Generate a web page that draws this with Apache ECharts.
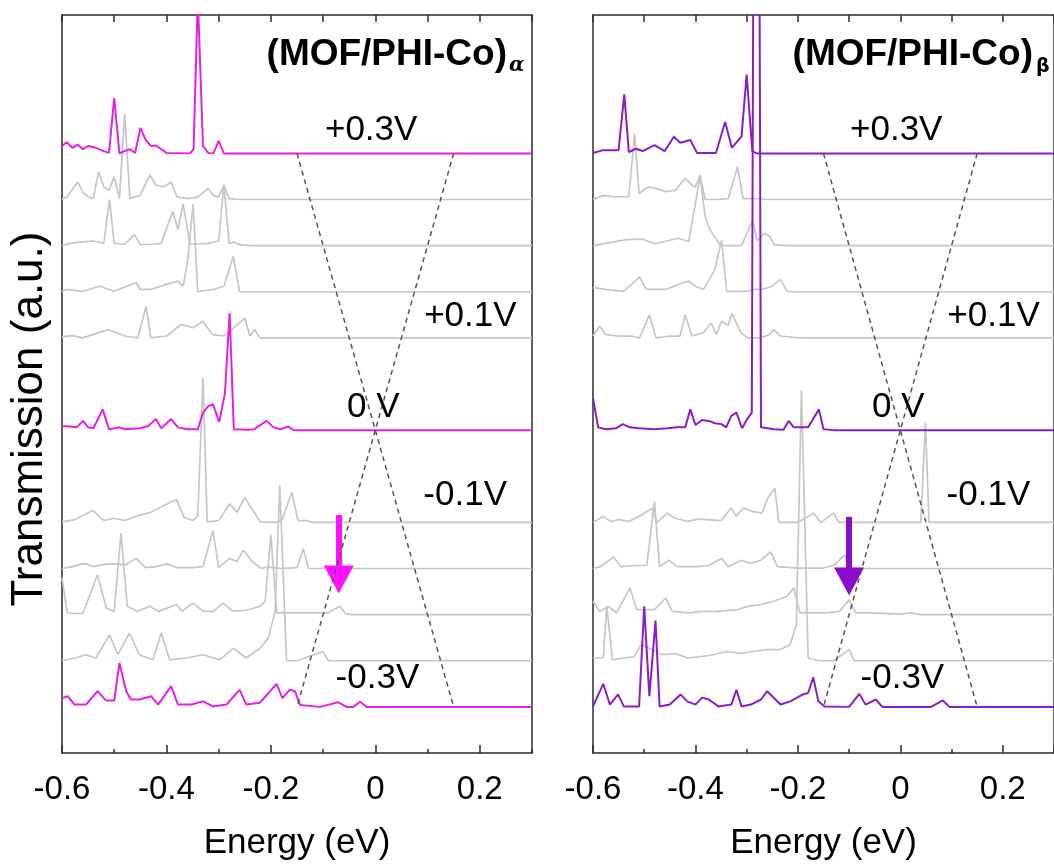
<!DOCTYPE html>
<html>
<head>
<meta charset="utf-8">
<script src="https://cdn.jsdelivr.net/npm/echarts@6/dist/echarts.min.js"></script>
<style>html,body{margin:0;padding:0;background:#fff}#c{width:1054px;height:866px}</style>
</head>
<body>
<div id="c"></div>
<script>
// ---------------- DATA ----------------
const xTickLabels = ['-0.6', '-0.4', '-0.2', '0', '0.2'];
const biasLabels = ['+0.3V', '+0.1V', '0 V', '-0.1V', '-0.3V'];
const biasLabelValues = [0.3, 0.1, 0, -0.1, -0.3];
const panelNames = ['(MOF/PHI-Co)', '(MOF/PHI-Co)'];
const panelSubs = ['α', 'β'];
// bias window edges: [energy, bias]
const windowLeft = [[-0.15, 0.3], [0.15, -0.3]];
const windowRight = [[0.15, 0.3], [-0.15, -0.3]];

// Each trace: [energy (eV), transmission (a.u.)]
// ---- (MOF/PHI-Co)alpha ----
const a_p30 = [[-0.6,0.16],[-0.591,0.24],[-0.58,0.12],[-0.57,0.19],[-0.56,0.09],[-0.55,0.16],[-0.54,0.14],[-0.52,0.05],[-0.51,0.01],[-0.5,1.2],[-0.49,0],[-0.48,0.05],[-0.47,0.09],[-0.46,0.01],[-0.45,0.55],[-0.44,0.3],[-0.43,0.16],[-0.42,0.17],[-0.4,0.01],[-0.355,0],[-0.348,0.09],[-0.34,3.4],[-0.33,0.16],[-0.32,0.01],[-0.31,0],[-0.3,0.27],[-0.29,0],[0.3,0]];
const a_p25 = [[-0.6,0],[-0.59,0.06],[-0.57,0.38],[-0.56,0.16],[-0.55,0.06],[-0.54,0.02],[-0.53,0.6],[-0.52,0.27],[-0.51,0.2],[-0.5,0.49],[-0.49,0.02],[-0.48,1.86],[-0.47,0.02],[-0.46,0.06],[-0.45,0.09],[-0.432,0.53],[-0.42,0.31],[-0.405,0.27],[-0.391,0.38],[-0.38,0.06],[-0.36,0.02],[-0.34,0.05],[-0.32,0.24],[-0.31,0.09],[-0.3,0.05],[-0.29,0.31],[-0.28,0.02],[-0.26,0],[0.3,0]];
const a_p20 = [[-0.6,0],[-0.58,0.06],[-0.56,0.08],[-0.54,0.1],[-0.52,0.05],[-0.509,1.0],[-0.5,0.05],[-0.48,0.03],[-0.461,0.24],[-0.45,0.02],[-0.43,0.03],[-0.41,0.05],[-0.388,0.74],[-0.378,0.35],[-0.368,0.91],[-0.355,0.03],[-0.32,0.05],[-0.3,0.1],[-0.29,1.32],[-0.28,0.05],[-0.27,0.08],[-0.26,0.02],[-0.24,0],[0.3,0]];
const a_p15 = [[-0.6,0],[-0.592,0.05],[-0.56,0.01],[-0.528,0.12],[-0.5,0.01],[-0.458,0.2],[-0.45,0.05],[-0.43,0.05],[-0.4,0.16],[-0.378,0.23],[-0.368,0.12],[-0.359,0.7],[-0.349,1.9],[-0.34,0],[-0.31,0.05],[-0.29,0.12],[-0.272,0.77],[-0.26,0],[0.3,0]];
const a_p10 = [[-0.6,0.02],[-0.58,0.05],[-0.56,0],[-0.512,0.18],[-0.48,0.04],[-0.455,0],[-0.439,0.68],[-0.43,0],[-0.4,0.04],[-0.372,0.29],[-0.349,0.22],[-0.33,0.36],[-0.312,0.07],[-0.29,0.04],[-0.25,0.43],[-0.24,0.04],[-0.231,0.18],[-0.221,0],[0.3,0]];
const a_0 = [[-0.6,0.09],[-0.585,0.08],[-0.572,0.06],[-0.56,0.2],[-0.55,0.06],[-0.54,0.04],[-0.522,0.45],[-0.51,0.02],[-0.49,0.06],[-0.48,0.02],[-0.45,0.04],[-0.435,0.09],[-0.42,0.24],[-0.41,0.04],[-0.391,0.24],[-0.378,0.06],[-0.36,0.02],[-0.34,0.02],[-0.33,0.38],[-0.32,0.52],[-0.311,0.56],[-0.299,0.18],[-0.288,0.8],[-0.279,2.54],[-0.271,0.02],[-0.245,0.01],[-0.232,0.02],[-0.208,0.2],[-0.195,0.06],[-0.182,0.02],[-0.167,0.08],[-0.157,0],[0.3,0]];
const a_m10 = [[-0.6,0.01],[-0.575,0.06],[-0.541,0.26],[-0.52,0.04],[-0.5,0.09],[-0.48,0.04],[-0.455,0.14],[-0.43,0.22],[-0.381,0.5],[-0.366,0.11],[-0.35,0.04],[-0.34,0.14],[-0.33,3.13],[-0.322,0.01],[-0.3,0.04],[-0.279,0.4],[-0.265,0.22],[-0.25,0.54],[-0.234,0.25],[-0.22,0.01],[-0.19,0],[-0.178,0.07],[-0.16,0.65],[-0.148,0.04],[-0.132,0.04],[-0.12,0],[0.3,0]];
const a_m15 = [[-0.6,0],[-0.58,0.04],[-0.556,0.11],[-0.54,0.04],[-0.52,0.09],[-0.5,0.1],[-0.478,0.08],[-0.458,0.22],[-0.44,0.02],[-0.42,0.04],[-0.4,0.1],[-0.38,0.02],[-0.35,0.02],[-0.33,0.04],[-0.311,0.82],[-0.3,0.02],[-0.279,0.22],[-0.265,0.15],[-0.253,0.4],[-0.235,0.14],[-0.22,0.01],[-0.2,0.03],[-0.18,0],[-0.15,0.02],[-0.138,0.43],[-0.128,0],[0.3,0]];
const a_m20 = [[-0.6,0.8],[-0.59,0.04],[-0.575,0.02],[-0.56,0.03],[-0.532,0.86],[-0.515,0.14],[-0.5,0.07],[-0.487,1.77],[-0.475,0.18],[-0.455,0.07],[-0.432,0.18],[-0.415,0.07],[-0.381,0.22],[-0.37,0.08],[-0.349,0.25],[-0.33,0.07],[-0.31,0.07],[-0.292,0.25],[-0.272,0.07],[-0.245,0.1],[-0.221,0.18],[-0.211,0.29],[-0.2,1.73],[-0.189,0.04],[-0.175,0.04],[-0.15,0.04],[-0.09,0.04],[-0.068,0.18],[-0.056,0.01],[-0.04,0],[0.3,0]];
const a_m25 = [[-0.6,0],[-0.575,0.06],[-0.555,0.13],[-0.535,0.06],[-0.509,0.56],[-0.493,0.13],[-0.471,0.6],[-0.452,0.13],[-0.426,0.02],[-0.41,0.6],[-0.394,0.02],[-0.362,0.06],[-0.33,0.13],[-0.298,0.02],[-0.272,0.27],[-0.247,0.06],[-0.221,0.27],[-0.205,0.49],[-0.192,1.07],[-0.183,3.8],[-0.17,0],[-0.15,0],[-0.1,0.2],[-0.09,0],[0.3,0]];
const a_m30 = [[-0.6,0.19],[-0.589,0.23],[-0.576,0.05],[-0.554,0.05],[-0.532,0.34],[-0.516,0.14],[-0.5,0.14],[-0.49,0.95],[-0.477,0.34],[-0.468,0.16],[-0.452,0.16],[-0.429,0.23],[-0.416,0.05],[-0.391,0.45],[-0.378,0.05],[-0.352,0.05],[-0.33,0.12],[-0.311,0.01],[-0.285,0.05],[-0.26,0.37],[-0.247,0.05],[-0.221,0.09],[-0.189,0.5],[-0.178,0.19],[-0.164,0.37],[-0.154,0.34],[-0.144,0.04],[-0.106,0],[-0.071,0.1],[-0.055,0],[-0.042,0],[-0.029,0.11],[-0.017,0],[0.3,0]];

// ---- (MOF/PHI-Co)beta ----
const b_p30 = [[-0.6,0.01],[-0.58,0.07],[-0.55,0.07],[-0.539,1.28],[-0.53,0.03],[-0.516,0.1],[-0.503,0.05],[-0.48,0.18],[-0.46,0.05],[-0.442,0.36],[-0.43,0.23],[-0.41,0.29],[-0.397,0.01],[-0.36,0.01],[-0.342,0.68],[-0.329,0.12],[-0.31,0.37],[-0.3,1.71],[-0.289,0.05],[-0.28,0],[0.3,0]];
const b_p25 = [[-0.6,0],[-0.58,0.09],[-0.56,0.06],[-0.53,0.06],[-0.519,1.42],[-0.51,0.13],[-0.493,0.27],[-0.477,0.24],[-0.458,0.17],[-0.439,0.2],[-0.42,0.46],[-0.407,0.31],[-0.4,0.27],[-0.391,0.53],[-0.381,0],[-0.36,0],[-0.336,0.02],[-0.318,0.71],[-0.307,0.02],[-0.28,0.02],[-0.26,0],[0.3,0]];
const b_p20 = [[-0.6,0],[-0.57,0.06],[-0.535,0.13],[-0.503,0.14],[-0.48,0.04],[-0.46,0.09],[-0.434,0.16],[-0.413,0.09],[-0.391,1.5],[-0.381,0.63],[-0.372,0.35],[-0.359,0.13],[-0.35,0],[-0.31,0],[-0.288,0.56],[-0.28,0.1],[-0.265,0.27],[-0.255,0.2],[-0.246,0.02],[-0.22,0],[0.3,0]];
const b_p15 = [[-0.6,0.09],[-0.575,0.05],[-0.54,0.01],[-0.509,0.32],[-0.496,0.05],[-0.458,0.05],[-0.426,0.19],[-0.413,0.23],[-0.4,0.12],[-0.384,0.05],[-0.362,0.48],[-0.349,1.12],[-0.339,0.01],[-0.298,0.01],[-0.285,0.05],[-0.27,0.05],[-0.25,0.12],[-0.234,0.27],[-0.221,0.01],[-0.2,0],[0.3,0]];
const b_p10 = [[-0.6,0.04],[-0.587,0.25],[-0.575,0.07],[-0.55,0.04],[-0.525,0.04],[-0.509,0],[-0.49,0.5],[-0.477,0],[-0.45,0.04],[-0.43,0.04],[-0.42,0.5],[-0.407,0.04],[-0.385,0.11],[-0.369,0.32],[-0.359,0.07],[-0.349,0.36],[-0.336,0.27],[-0.329,0.53],[-0.311,0.11],[-0.298,0],[-0.272,0],[-0.256,0.07],[-0.247,0.18],[-0.234,0.04],[-0.21,0.01],[-0.19,0],[0.3,0]];
const b_0 = [[-0.6,0.7],[-0.59,0.06],[-0.575,0.02],[-0.555,0.04],[-0.542,0.13],[-0.528,0.06],[-0.51,0.04],[-0.48,0.02],[-0.455,0.04],[-0.437,0.06],[-0.42,0.06],[-0.41,0.45],[-0.4,0.11],[-0.387,0.22],[-0.374,0.2],[-0.362,0.15],[-0.349,0.13],[-0.34,0.06],[-0.33,0.31],[-0.32,0.38],[-0.309,0.04],[-0.299,0.24],[-0.29,0.38],[-0.287,10],[-0.275,10],[-0.272,0.06],[-0.247,0.02],[-0.228,0.01],[-0.218,0.2],[-0.208,0.06],[-0.18,0.06],[-0.159,0.45],[-0.15,0.02],[-0.13,0],[0.3,0]];
const b_m10 = [[-0.6,0],[-0.58,0.13],[-0.565,0.02],[-0.55,0.06],[-0.53,0.02],[-0.51,0.13],[-0.485,0.3],[-0.475,0],[-0.455,0.2],[-0.44,0.09],[-0.415,0.02],[-0.395,0.07],[-0.35,0.04],[-0.33,0.31],[-0.32,0.13],[-0.307,0.31],[-0.29,0.24],[-0.27,0.2],[-0.26,0.5],[-0.245,0.74],[-0.237,0],[-0.2,0],[-0.17,0.2],[-0.155,0],[-0.13,0.2],[-0.12,0],[0.04,0],[0.049,2.17],[0.056,0],[0.3,0]];
const b_m15 = [[-0.6,0],[-0.585,0.04],[-0.56,0.25],[-0.545,0.04],[-0.525,0.06],[-0.495,0.07],[-0.48,1.45],[-0.47,0.04],[-0.452,0.18],[-0.435,0.04],[-0.4,0.04],[-0.375,0.06],[-0.349,0.22],[-0.336,0.04],[-0.311,0.18],[-0.292,0.11],[-0.272,0.18],[-0.253,0.36],[-0.24,0.04],[-0.2,0.01],[-0.15,0.01],[-0.13,0.07],[-0.109,0.29],[-0.1,0.01],[-0.08,0],[0.3,0]];
const b_m20 = [[-0.6,0.29],[-0.587,0.07],[-0.57,0.18],[-0.554,0.04],[-0.528,0.58],[-0.515,0.11],[-0.5,0.11],[-0.48,0.11],[-0.458,0.36],[-0.445,0.07],[-0.413,0.04],[-0.387,0.07],[-0.36,0.07],[-0.317,0.11],[-0.298,0.18],[-0.272,0.22],[-0.247,0.29],[-0.221,0.4],[-0.208,0.58],[-0.196,0.04],[-0.17,0.04],[-0.145,0.04],[-0.119,0.07],[-0.1,0.32],[-0.087,0.04],[-0.06,0.04],[0,0.01],[0.02,0.04],[0.04,0],[0.3,0]];
const b_m25 = [[-0.6,0.06],[-0.58,0.06],[-0.573,1.18],[-0.562,0.02],[-0.54,0.06],[-0.52,0.09],[-0.506,0.35],[-0.49,0.27],[-0.465,0.13],[-0.44,0.16],[-0.415,0.06],[-0.39,0.09],[-0.365,0.13],[-0.34,0.2],[-0.31,0.16],[-0.29,0.2],[-0.26,0.24],[-0.235,0.24],[-0.215,0.35],[-0.203,0.78],[-0.193,5.86],[-0.18,0.06],[-0.16,0],[-0.13,0],[-0.1,0.24],[-0.09,0],[0.3,0]];
const b_m30 = [[-0.6,0.01],[-0.58,0.5],[-0.567,0.05],[-0.551,0.27],[-0.54,0.01],[-0.51,0.01],[-0.5,2.18],[-0.49,0.23],[-0.478,1.87],[-0.47,0.01],[-0.45,0.05],[-0.429,0.27],[-0.416,0.12],[-0.4,0.05],[-0.387,0.2],[-0.374,0.16],[-0.355,0.01],[-0.33,0.05],[-0.32,0.37],[-0.31,0.01],[-0.292,0.05],[-0.272,0.16],[-0.26,0.34],[-0.234,0.05],[-0.215,0.12],[-0.19,0.27],[-0.18,0.3],[-0.17,0.64],[-0.16,0.12],[-0.148,0.01],[-0.1,0],[-0.08,0.28],[-0.068,0.05],[-0.048,0.16],[-0.035,0],[0.06,0],[0.083,0.14],[0.096,0],[0.3,0]];

const biases = [0.3, 0.25, 0.2, 0.15, 0.1, 0, -0.1, -0.15, -0.2, -0.25, -0.3];
const alphaTraces = [a_p30, a_p25, a_p20, a_p15, a_p10, a_0, a_m10, a_m15, a_m20, a_m25, a_m30];
const betaTraces  = [b_p30, b_p25, b_p20, b_p15, b_p10, b_0, b_m10, b_m15, b_m20, b_m25, b_m30];
// arrows: [energy, startBias, endBias]
const arrowAlpha = [-0.07, -0.092, -0.162];
const arrowBeta  = [-0.1, -0.094, -0.164];

// ---------------- LAYOUT / STYLE ----------------
const tScale = 0.05;          // one transmission unit drawn as one bias step
const FONT = '"Liberation Sans", Arial, Helvetica, sans-serif';
const frame = '#2b2b2b';
const gray = '#c6c6c6';
const colors = ['#e51fe5', '#8a1dc6'];
const arrowColors = ['#ff10ff', '#8a0ccc'];
const grids = [
  {left: 62, top: 15, width: 470, height: 740},
  {left: 593, top: 15, width: 470, height: 740}
];
const labelPos = [[-0.008, 0.325], [0.182, 0.123], [-0.004, 0.025], [0.172, -0.071], [0.004, -0.269]];

const xAxes = [], yAxes = [], series = [];
grids.forEach((g, gi) => {
  const base = {type: 'value', gridIndex: gi, min: -0.6, max: 0.3, splitLine: {show: false}};
  xAxes.push(Object.assign({}, base, {
    position: 'bottom', interval: 0.2,
    axisLine: {show: true, onZero: false, lineStyle: {color: frame, width: 1.5}},
    axisTick: {show: true, inside: true, length: 8, lineStyle: {color: frame, width: 1.5}},
    axisLabel: {show: true, fontSize: 33, fontFamily: FONT, color: '#000', margin: 20, showMaxLabel: false,
      formatter: v => xTickLabels[Math.round((v + 0.6) / 0.2)] || ''},
    name: 'Energy (eV)', nameLocation: 'middle', nameGap: 73,
    nameTextStyle: {fontSize: 35, fontFamily: FONT, color: '#000'}
  }));
  xAxes.push(Object.assign({}, base, {
    position: 'bottom', interval: 0.1,
    axisLine: {show: false, onZero: false},
    axisTick: {show: true, inside: true, length: 4, lineStyle: {color: frame, width: 1.5}},
    axisLabel: {show: false}
  }));
  xAxes.push(Object.assign({}, base, {
    position: 'top', interval: 0.1,
    axisLine: {show: true, onZero: false, lineStyle: {color: frame, width: 1.5}},
    axisTick: {show: true, inside: true, length: 7, lineStyle: {color: frame, width: 1.5}},
    axisLabel: {show: false}
  }));
  const ybase = {type: 'value', gridIndex: gi, min: -0.35, max: 0.45, splitLine: {show: false},
    axisTick: {show: false}, axisLabel: {show: false},
    axisLine: {show: true, onZero: false, lineStyle: {color: frame, width: 1.5}}};
  yAxes.push(Object.assign({}, ybase, {position: 'left'}));
  yAxes.push(Object.assign({}, ybase, {position: 'right'}));

  const traces = gi === 0 ? alphaTraces : betaTraces;
  traces.forEach((pts, i) => {
    const b = biases[i];
    const hl = Math.abs(b) > 0.29 || b === 0;
    series.push({
      type: 'line', xAxisIndex: gi * 3, yAxisIndex: gi * 2,
      data: pts.map(p => [p[0], b + p[1] * tScale]),
      symbol: 'none', showSymbol: false, silent: true, animation: false, clip: true,
      lineStyle: {color: hl ? colors[gi] : gray, width: hl ? 2 : 1.7},
      z: hl ? 4 : 2
    });
  });
  const arr = gi === 0 ? arrowAlpha : arrowBeta;
  [windowLeft, windowRight].forEach((w, k) => {
    const s = {
      type: 'line', xAxisIndex: gi * 3, yAxisIndex: gi * 2, data: w,
      symbol: 'none', silent: true, animation: false,
      lineStyle: {color: '#555', width: 1.5, type: [5, 4]}, z: 5
    };
    if (k === 0) {
      s.markLine = {
        silent: true, animation: false, symbol: ['none', 'triangle'], symbolSize: [30, 28],
        label: {show: false},
        lineStyle: {color: arrowColors[gi], width: 6, type: 'solid', opacity: 1},
        data: [[{coord: [arr[0], arr[1]]}, {coord: [arr[0], arr[2]]}]]
      };
    }
    series.push(s);
  });
  series.push({
    type: 'scatter', xAxisIndex: gi * 3, yAxisIndex: gi * 2, symbolSize: 0, silent: true, animation: false, z: 6,
    itemStyle: {opacity: 1},
    data: biasLabels.map((t, i) => [labelPos[i][0], labelPos[i][1], t]),
    label: {show: true, position: 'inside', formatter: p => p.data[2], fontSize: 35, fontFamily: FONT, color: '#000', opacity: 1}
  });
});

const chart = echarts.init(document.getElementById('c'), null, {renderer: 'canvas'});
chart.setOption({
  animation: false,
  backgroundColor: '#fff',
  grid: grids,
  xAxis: xAxes,
  yAxis: yAxes,
  series: series,
  graphic: [
    {type: 'text', x: 507, y: 55, z: 10, style: {text: panelNames[0], font: 'bold 37px ' + FONT, fill: '#000', align: 'right', verticalAlign: 'middle'}},
    {type: 'text', x: 509, y: 66, z: 10, style: {text: panelSubs[0], font: 'italic bold 20px "DejaVu Serif", serif', fill: '#000', align: 'left', verticalAlign: 'middle'}},
    {type: 'text', x: 1033, y: 55, z: 10, style: {text: panelNames[1], font: 'bold 37px ' + FONT, fill: '#000', align: 'right', verticalAlign: 'middle'}},
    {type: 'text', x: 1036, y: 67, z: 10, style: {text: panelSubs[1], font: 'bold 19px "DejaVu Sans", sans-serif', fill: '#000', align: 'left', verticalAlign: 'middle'}},
    {type: 'text', x: 30, y: 419, rotation: Math.PI / 2, z: 10, style: {text: 'Transmission (a.u.)', font: '44px ' + FONT, fill: '#000', align: 'center', verticalAlign: 'middle'}}
  ]
});
</script>
</body>
</html>
